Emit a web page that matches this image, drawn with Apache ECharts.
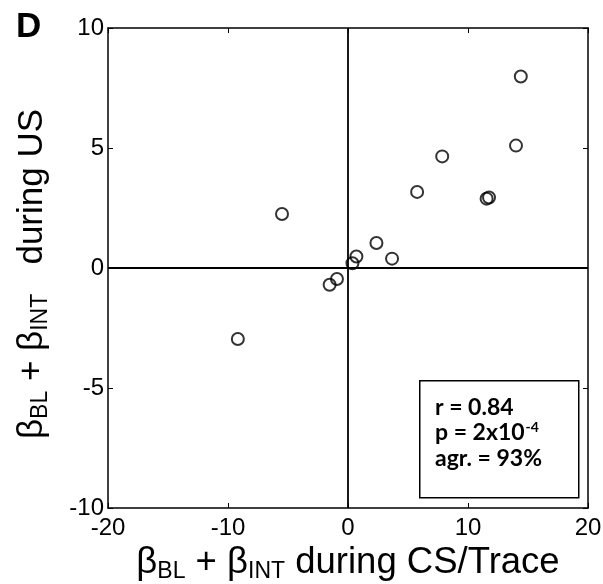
<!DOCTYPE html>
<html>
<head>
<meta charset="utf-8">
<script src="https://cdn.jsdelivr.net/npm/echarts@6/dist/echarts.min.js"></script>
<style>
html,body{margin:0;padding:0;background:#fff;}
#chart{width:603px;height:584px;}
</style>
</head>
<body>
<div id="chart"></div>
<script>
// Data
var xValues = [14.4, 14.0, 7.85, 5.76, 11.55, 11.75, -5.5, 2.37, 0.7, 0.37, 3.67, -0.92, -1.53, -9.18];
var yValues = [7.98, 5.1, 4.65, 3.17, 2.89, 2.94, 2.25, 1.04, 0.48, 0.2, 0.39, -0.46, -0.7, -2.96];
var xTicks = [-20, -10, 0, 10, 20];
var yTicks = [-10, -5, 0, 5, 10];
var statLines = ['r = 0.84', 'p = 2x10', '-4', 'agr. = 93%'];

var points = xValues.map(function (x, i) { return [x, yValues[i]]; });
var FONT = 'Liberation Sans, Arial, sans-serif';
var BOXFONT = 'Lato, Open Sans, sans-serif';

var chart = echarts.init(document.getElementById('chart'), null, {renderer: 'canvas'});

function subRich(size) {
  return {
    m: {fontSize: size, fontFamily: FONT, color: '#000', lineHeight: 40, verticalAlign: 'middle'},
    s: {fontSize: 23, fontFamily: FONT, color: '#000', lineHeight: 40, verticalAlign: 'bottom'}
  };
}

function axisCommon(extra) {
  var base = {
    type: 'value',
    axisLine: {show: true, onZero: false, lineStyle: {color: '#000', width: 1.5}},
    axisTick: {show: true, inside: true, length: 5, lineStyle: {color: '#000', width: 1}},
    splitLine: {show: false},
    axisLabel: {show: false}
  };
  for (var k in extra) base[k] = extra[k];
  return base;
}

var option = {
  backgroundColor: '#fff',
  animation: false,
  grid: {left: 108, top: 28, width: 480, height: 480, containLabel: false, outerBoundsMode: 'none'},
  xAxis: [
    axisCommon({
      position: 'bottom', min: xTicks[0], max: xTicks[xTicks.length - 1], interval: 10,
      axisLabel: {show: true, color: '#000', fontSize: 24, fontFamily: FONT, margin: 8},
      name: '{m|β}{s|BL}{m| + β}{s|INT}{m| during CS/Trace}',
      nameLocation: 'middle', nameGap: 33,
      nameTextStyle: {rich: subRich(36.5)}
    }),
    axisCommon({position: 'top', min: xTicks[0], max: xTicks[xTicks.length - 1], interval: 10})
  ],
  yAxis: [
    axisCommon({
      position: 'left', min: yTicks[0], max: yTicks[yTicks.length - 1], interval: 5,
      axisLabel: {show: true, color: '#000', fontSize: 24, fontFamily: FONT, margin: 4},
      name: '{m|β}{s|BL}{m| + β}{s|INT}{m|   during US}',
      nameLocation: 'middle', nameGap: 56, nameRotate: 90,
      nameTextStyle: {rich: subRich(35), padding: [0, 12, 0, 0]}
    }),
    axisCommon({position: 'right', min: yTicks[0], max: yTicks[yTicks.length - 1], interval: 5})
  ],
  series: [{
    type: 'scatter',
    xAxisIndex: 0, yAxisIndex: 0,
    data: points,
    symbol: 'circle',
    symbolSize: 12,
    itemStyle: {color: 'rgba(0,0,0,0)', borderColor: '#000', borderWidth: 2},
    z: 3,
    markLine: {
      silent: true,
      symbol: ['none', 'none'],
      label: {show: false},
      lineStyle: {color: '#000', width: 1.8, type: 'solid'},
      data: [{xAxis: 0}, {yAxis: 0}],
      z: 2
    }
  }],
  graphic: [
    {
      type: 'text', left: 16, top: 10,
      style: {text: 'D', font: 'bold 35px ' + FONT, fill: '#000'}
    },
    {
      type: 'rect', left: 419, top: 380,
      shape: {width: 159, height: 117},
      style: {fill: '#fff', stroke: '#000', lineWidth: 1.5},
      z: 10
    },
    {
      type: 'text', left: 435, top: 396, z: 11,
      style: {
        text: '{a|' + statLines[0] + '}\n{a|' + statLines[1] + '}{sup|' + statLines[2] + '}\n{a|' + statLines[3] + '}',
        rich: {
          a: {fontSize: 23, fontWeight: 'bold', fontFamily: BOXFONT, color: '#000', lineHeight: 25.5},
          sup: {fontSize: 14, fontWeight: 'bold', fontFamily: BOXFONT, color: '#000', lineHeight: 25.5, verticalAlign: 'top', padding: [0, 0, 0, 1]}
        }
      }
    }
  ]
};
chart.setOption(option);
</script>
</body>
</html>
